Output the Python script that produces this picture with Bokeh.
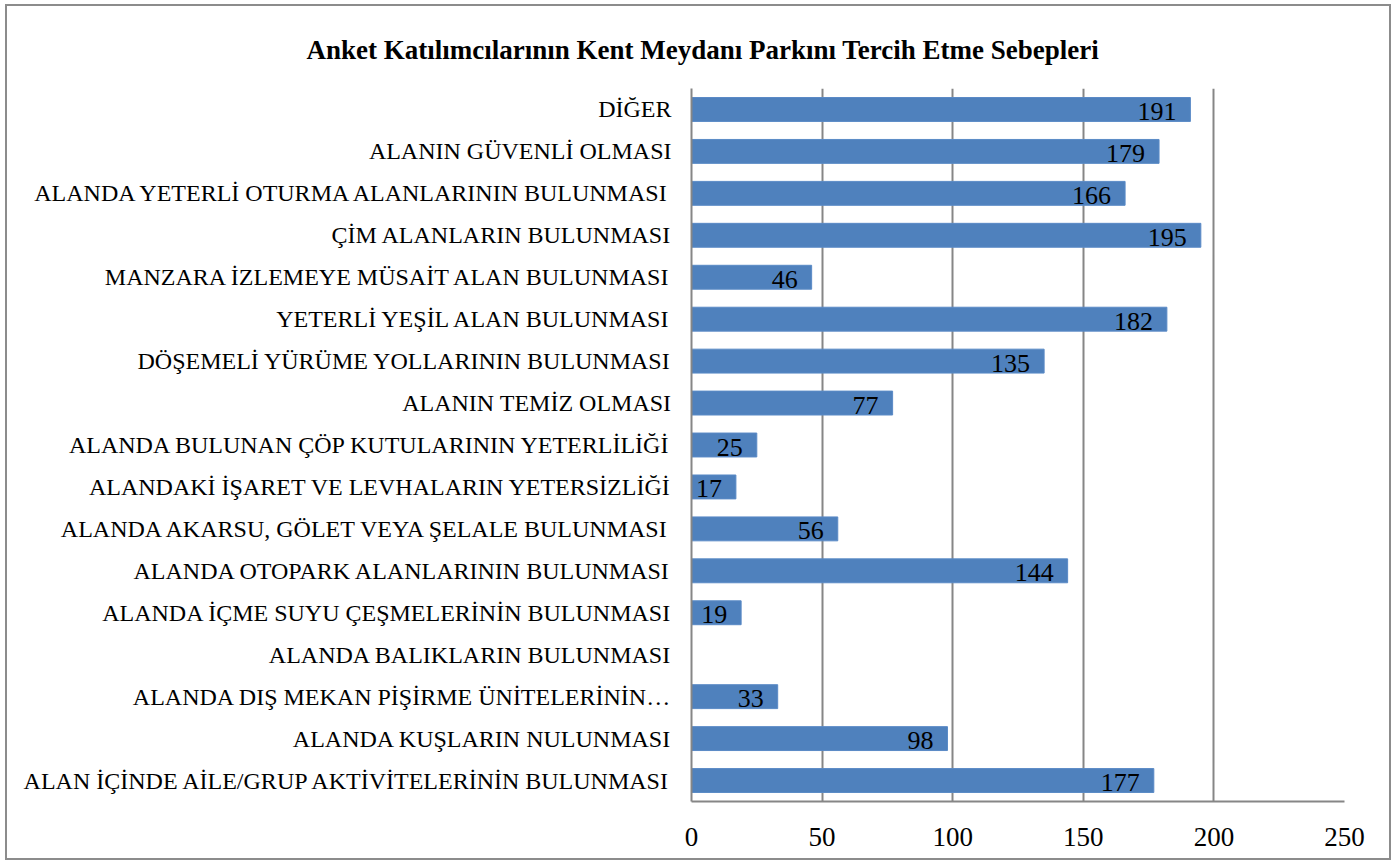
from bokeh.plotting import figure
from bokeh.models import ColumnDataSource, FixedTicker, FactorRange, Range1d
from bokeh.core.properties import value
from bokeh.embed import file_html
from bokeh.resources import INLINE

# categories listed bottom -> top
categories = [
    "ALAN İÇİNDE AİLE/GRUP AKTİVİTELERİNİN BULUNMASI",
    "ALANDA KUŞLARIN NULUNMASI",
    "ALANDA DIŞ MEKAN PİŞİRME ÜNİTELERİNİN…",
    "ALANDA BALIKLARIN BULUNMASI",
    "ALANDA İÇME SUYU ÇEŞMELERİNİN BULUNMASI",
    "ALANDA OTOPARK ALANLARININ BULUNMASI",
    "ALANDA AKARSU, GÖLET VEYA ŞELALE BULUNMASI",
    "ALANDAKİ İŞARET VE LEVHALARIN YETERSİZLİĞİ",
    "ALANDA BULUNAN ÇÖP KUTULARININ YETERLİLİĞİ",
    "ALANIN TEMİZ OLMASI",
    "DÖŞEMELİ YÜRÜME YOLLARININ BULUNMASI",
    "YETERLİ YEŞİL ALAN BULUNMASI",
    "MANZARA İZLEMEYE MÜSAİT ALAN BULUNMASI",
    "ÇİM ALANLARIN BULUNMASI",
    "ALANDA YETERLİ OTURMA ALANLARININ BULUNMASI",
    "ALANIN GÜVENLİ OLMASI",
    "DİĞER",
]
counts = [177, 98, 33, 0, 19, 144, 56, 17, 25, 77, 135, 182, 46, 195, 166, 179, 191]
x_ticks = [0, 50, 100, 150, 200, 250]
title_text = "Anket Katılımcılarının Kent Meydanı Parkını Tercih Etme Sebepleri"

labels = [str(v) if v > 0 else "" for v in counts]
src = ColumnDataSource(dict(cat=categories, val=counts, lab=labels))

SERIF = "Liberation Serif"
GRAY = "#868686"

p = figure(
    width=1386, height=856,
    y_range=FactorRange(*categories, range_padding=0),
    x_range=Range1d(0, 250),
    output_backend="svg", toolbar_location=None,
    min_border_left=684, min_border_right=49,
    min_border_top=82, min_border_bottom=61,
    title=title_text,
)
p.margin = (4, 0, 0, 5)
p.styles = {"border": "2px solid #8c8c8c", "box-sizing": "border-box"}
p.outline_line_color = None
p.background_fill_color = "white"

p.title.align = "left"
p.title.offset = -385
p.title.standoff = 48
p.title.text_font = SERIF
p.title.text_font_size = "27px"
p.title.text_font_style = "bold"
p.title.text_color = "black"

p.hbar(y="cat", right="val", left=0, height=0.57, source=src,
       fill_color="#4F81BD", line_color="#5A8AC6", line_width=1)

p.text(x="val", y="cat", text="lab", source=src,
       text_font=value(SERIF), text_font_size="26px", text_color="black",
       text_align="right", text_baseline="middle", x_offset=-14, y_offset=2)

# grid
p.ygrid.grid_line_color = None
p.xgrid.grid_line_color = GRAY
p.xgrid.grid_line_width = 2
p.xaxis.ticker = FixedTicker(ticks=x_ticks)

for ax in (p.xaxis[0], p.yaxis[0]):
    ax.axis_line_color = GRAY
    ax.axis_line_width = 2
    ax.major_tick_line_color = None
    ax.minor_tick_line_color = None
    ax.major_label_text_font = SERIF
    ax.major_label_text_color = "black"

p.xaxis.major_label_text_font_size = "27px"
p.xaxis.major_label_standoff = 20
p.yaxis.major_label_text_font_size = "24px"
p.yaxis.major_label_standoff = 14

open("out.html", "w").write(file_html(p, INLINE))
